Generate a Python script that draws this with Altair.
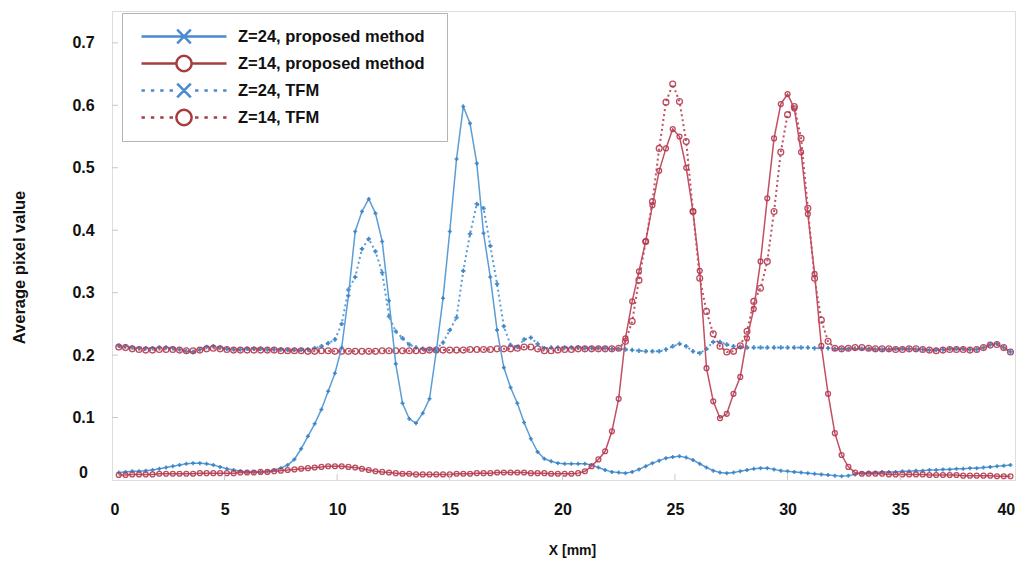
import altair as alt
import pandas as pd

# ---------------- data ----------------
X_MM = [
    0.3, 0.6, 0.9, 1.2, 1.5, 1.8, 2.1, 2.4, 2.7, 3.0,
    3.3, 3.6, 3.9, 4.2, 4.5, 4.8, 5.1, 5.4, 5.7, 6.0,
    6.3, 6.6, 6.9, 7.2, 7.5, 7.8, 8.1, 8.4, 8.7, 9.0,
    9.3, 9.6, 9.9, 10.2, 10.5, 10.8, 11.1, 11.4, 11.7, 12.0,
    12.3, 12.6, 12.9, 13.2, 13.5, 13.8, 14.1, 14.4, 14.7, 15.0,
    15.3, 15.6, 15.9, 16.2, 16.5, 16.8, 17.1, 17.4, 17.7, 18.0,
    18.3, 18.6, 18.9, 19.2, 19.5, 19.8, 20.1, 20.4, 20.7, 21.0,
    21.3, 21.6, 21.9, 22.2, 22.5, 22.8, 23.1, 23.4, 23.7, 24.0,
    24.3, 24.6, 24.9, 25.2, 25.5, 25.8, 26.1, 26.4, 26.7, 27.0,
    27.3, 27.6, 27.9, 28.2, 28.5, 28.8, 29.1, 29.4, 29.7, 30.0,
    30.3, 30.6, 30.9, 31.2, 31.5, 31.8, 32.1, 32.4, 32.7, 33.0,
    33.3, 33.6, 33.9, 34.2, 34.5, 34.8, 35.1, 35.4, 35.7, 36.0,
    36.3, 36.6, 36.9, 37.2, 37.5, 37.8, 38.1, 38.4, 38.7, 39.0,
    39.3, 39.6, 39.9,
]

B24_PROPOSED = [
    0.012, 0.013, 0.014, 0.014, 0.015, 0.016, 0.018, 0.020, 0.022, 0.024,
    0.026, 0.027, 0.027, 0.026, 0.024, 0.021, 0.018, 0.016, 0.014, 0.013,
    0.013, 0.013, 0.014, 0.016, 0.019, 0.024, 0.033, 0.050, 0.070, 0.090,
    0.113, 0.142, 0.171, 0.212, 0.295, 0.398, 0.430, 0.450, 0.427, 0.382,
    0.287, 0.186, 0.123, 0.098, 0.091, 0.107, 0.130, 0.206, 0.291, 0.398,
    0.514, 0.598, 0.571, 0.507, 0.395, 0.325, 0.240, 0.180, 0.148, 0.123,
    0.092, 0.066, 0.045, 0.034, 0.030, 0.027, 0.026, 0.026, 0.026, 0.026,
    0.024, 0.020, 0.016, 0.013, 0.012, 0.011, 0.013, 0.017, 0.022, 0.027,
    0.031, 0.035, 0.037, 0.038, 0.036, 0.032, 0.026, 0.020, 0.015, 0.012,
    0.011, 0.012, 0.014, 0.016, 0.018, 0.019, 0.019, 0.017, 0.015, 0.014,
    0.013, 0.012, 0.011, 0.010, 0.009, 0.008, 0.007, 0.006, 0.007, 0.009,
    0.011, 0.012, 0.012, 0.013, 0.013, 0.013, 0.014, 0.014, 0.015, 0.015,
    0.016, 0.016, 0.017, 0.017, 0.018, 0.018, 0.019, 0.019, 0.020, 0.021,
    0.022, 0.023, 0.024,
]

R14_PROPOSED = [
    0.008, 0.008, 0.009, 0.009, 0.009, 0.009, 0.010, 0.010, 0.010, 0.010,
    0.010, 0.010, 0.011, 0.011, 0.011, 0.011, 0.011, 0.011, 0.012, 0.012,
    0.012, 0.013, 0.013, 0.014, 0.015, 0.016, 0.017, 0.018, 0.019, 0.020,
    0.021, 0.022, 0.022, 0.022, 0.021, 0.020, 0.018, 0.016, 0.014, 0.013,
    0.012, 0.011, 0.010, 0.010, 0.009, 0.009, 0.009, 0.009, 0.009, 0.009,
    0.010, 0.010, 0.010, 0.011, 0.011, 0.011, 0.012, 0.012, 0.012, 0.012,
    0.012, 0.011, 0.011, 0.011, 0.010, 0.010, 0.010, 0.010, 0.011, 0.014,
    0.022, 0.033, 0.046, 0.078, 0.130, 0.227, 0.286, 0.334, 0.382, 0.440,
    0.495, 0.531, 0.562, 0.550, 0.500, 0.430, 0.335, 0.179, 0.126, 0.099,
    0.106, 0.138, 0.165, 0.227, 0.274, 0.350, 0.451, 0.547, 0.602, 0.618,
    0.595, 0.525, 0.426, 0.330, 0.215, 0.138, 0.075, 0.040, 0.021, 0.012,
    0.010, 0.010, 0.010, 0.010, 0.009, 0.009, 0.009, 0.009, 0.009, 0.009,
    0.008, 0.008, 0.008, 0.008, 0.008, 0.007, 0.007, 0.007, 0.007, 0.007,
    0.006, 0.006, 0.006,
]

B24_TFM = [
    0.215, 0.214, 0.212, 0.211, 0.211, 0.211, 0.212, 0.212, 0.211, 0.209,
    0.206, 0.205, 0.209, 0.213, 0.214, 0.212, 0.210, 0.209, 0.209, 0.210,
    0.210, 0.210, 0.209, 0.209, 0.209, 0.208, 0.208, 0.208, 0.209, 0.211,
    0.214, 0.219, 0.225, 0.250, 0.305, 0.325, 0.370, 0.386, 0.366, 0.332,
    0.262, 0.238, 0.227, 0.217, 0.212, 0.210, 0.209, 0.210, 0.220, 0.240,
    0.260, 0.335, 0.394, 0.442, 0.435, 0.375, 0.314, 0.246, 0.216, 0.213,
    0.225, 0.228, 0.218, 0.211, 0.212, 0.212, 0.212, 0.212, 0.212, 0.211,
    0.211, 0.211, 0.211, 0.210, 0.210, 0.209, 0.208, 0.207, 0.206, 0.206,
    0.206, 0.209, 0.214, 0.218, 0.214, 0.206, 0.203, 0.210, 0.221, 0.221,
    0.217, 0.214, 0.213, 0.212, 0.212, 0.212, 0.212, 0.212, 0.212, 0.212,
    0.212, 0.212, 0.212, 0.211, 0.211, 0.211, 0.210, 0.210, 0.210, 0.210,
    0.210, 0.210, 0.209, 0.209, 0.209, 0.210, 0.210, 0.210, 0.209, 0.209,
    0.208, 0.208, 0.209, 0.210, 0.210, 0.210, 0.209, 0.209, 0.212, 0.217,
    0.218, 0.212, 0.205,
]

R14_TFM = [
    0.213, 0.212, 0.210, 0.209, 0.208, 0.208, 0.209, 0.209, 0.209, 0.208,
    0.207, 0.207, 0.208, 0.210, 0.211, 0.210, 0.209, 0.208, 0.208, 0.208,
    0.208, 0.208, 0.208, 0.208, 0.207, 0.207, 0.207, 0.207, 0.206, 0.206,
    0.207, 0.207, 0.206, 0.206, 0.206, 0.206, 0.206, 0.206, 0.206, 0.207,
    0.207, 0.207, 0.207, 0.207, 0.207, 0.207, 0.208, 0.208, 0.208, 0.208,
    0.208, 0.208, 0.209, 0.209, 0.209, 0.209, 0.210, 0.210, 0.210, 0.211,
    0.213, 0.213, 0.210, 0.207, 0.207, 0.208, 0.209, 0.209, 0.210, 0.210,
    0.210, 0.210, 0.210, 0.210, 0.211, 0.222, 0.254, 0.320, 0.382, 0.446,
    0.531, 0.605, 0.634, 0.606, 0.542, 0.430, 0.323, 0.270, 0.234, 0.214,
    0.205, 0.206, 0.215, 0.238, 0.286, 0.307, 0.350, 0.430, 0.525, 0.585,
    0.598, 0.547, 0.435, 0.323, 0.256, 0.222, 0.211, 0.210, 0.211, 0.212,
    0.212, 0.211, 0.210, 0.210, 0.210, 0.209, 0.209, 0.210, 0.210, 0.209,
    0.208, 0.207, 0.208, 0.209, 0.209, 0.209, 0.208, 0.209, 0.212, 0.216,
    0.217, 0.212, 0.205,
]

SERIES = ["Z=24, proposed method", "Z=14, proposed method", "Z=24, TFM", "Z=14, TFM"]
X_TICK_LABELS = [0, 5, 10, 15, 20, 25, 30, 35, 40]
Y_TICK_LABELS = [0, 0.1, 0.2, 0.3, 0.4, 0.5, 0.6, 0.7]

for arr in (B24_PROPOSED, R14_PROPOSED, B24_TFM, R14_TFM):
    assert len(arr) == len(X_MM), len(arr)

# ---------------- styling ----------------
FONT = "Liberation Sans"
BLUE_LINE = "#5b9dd6"
BLUE_MARK = "#3581c4"
RED_LINE = "#c24f62"
RED_MARK = "#b33a50"
LEG_BLUE = "#4a8ad0"
LEG_RED = "#a83c40"

W, H = 903, 469


def dotted(side_marker):
    segs = [(-1.0, -0.92), (-0.78, -0.70), (-0.56, -0.48), (-0.34, -0.26),
            (0.26, 0.34), (0.48, 0.56), (0.70, 0.78), (0.92, 1.0)]
    return "".join(f"M{a},0L{b},0" for a, b in segs) + side_marker


X_MARK = "M-0.16,-0.16L0.16,0.16M-0.16,0.16L0.16,-0.16"
O_MARK = "M-0.18,0A0.18,0.18,0,1,1,0.18,0A0.18,0.18,0,1,1,-0.18,0"
PATHS = [
    "M-1,0L1,0" + X_MARK,
    "M-1,0L-0.18,0M0.18,0L1,0" + O_MARK,
    dotted(X_MARK),
    dotted(O_MARK),
]

rows = []
for name, vals in zip(SERIES, [B24_PROPOSED, R14_PROPOSED, B24_TFM, R14_TFM]):
    for x, v in zip(X_MM, vals):
        rows.append({"x": x, "v": v, "series": name})
df = pd.DataFrame(rows)

xs = alt.Scale(domain=[0, 40.1], nice=False, zero=False)
ys = alt.Scale(domain=[0, 0.751], nice=False, zero=False)

x_axis = alt.Axis(
    values=X_TICK_LABELS, format="d", title="X [mm]", grid=False, ticks=False, domain=False,
    labelFont=FONT, labelFontSize=16, labelFontWeight="bold", labelColor="#111111",
    labelPadding=21, labelFlush=5, labelFlushOffset=2,
    titleFont=FONT, titleFontSize=14, titleFontWeight="bold", titleColor="#111111",
    titleX=460, titleY=70, titleBaseline="middle",
)
y_axis = alt.Axis(
    values=Y_TICK_LABELS, title="Average pixel value", grid=False, ticks=False, domain=False,
    labelExpr="datum.value == 0 ? '0' : format(datum.value, '.1f')",
    labelFont=FONT, labelFontSize=16, labelFontWeight="bold", labelColor="#111111",
    labelAlign="center", labelPadding=29,
    labelFlush=True, labelFlushOffset=0,
    titleFont=FONT, titleFontSize=16.5, titleFontWeight="bold", titleColor="#111111",
    titleX=-93, titleY=256, titleAngle=270, titleBaseline="middle", titleAlign="center",
)

X_ENC = alt.X("x:Q", scale=xs, axis=x_axis)
Y_ENC = alt.Y("v:Q", scale=ys, axis=y_axis)

base = alt.Chart(df)


def sel(name):
    return base.transform_filter(alt.datum.series == name)


layers = []
spec = [
    (SERIES[2], BLUE_LINE, BLUE_MARK, True),
    (SERIES[3], RED_LINE, RED_MARK, True),
    (SERIES[0], BLUE_LINE, BLUE_MARK, False),
    (SERIES[1], RED_LINE, RED_MARK, False),
]
for name, lc, mc, is_tfm in spec:
    if is_tfm:
        line = sel(name).mark_line(color=lc, strokeWidth=2, strokeDash=[2, 3])
    else:
        line = sel(name).mark_line(color=lc, strokeWidth=1.5)
    layers.append(line.encode(x=X_ENC, y=Y_ENC))
    if mc == BLUE_MARK:
        pts = sel(name).mark_point(shape="cross", filled=True, color=mc, size=20 if is_tfm else 16, opacity=0.9)
    else:
        pts = sel(name).mark_point(shape="circle", filled=False, color=mc, size=34 if is_tfm else 24,
                                   strokeWidth=1.3, opacity=0.9)
    layers.append(pts.encode(x=X_ENC, y=Y_ENC))

# faint inward tick marks
ytick_df = pd.DataFrame({"v": Y_TICK_LABELS[1:]})
xtick_df = pd.DataFrame({"x": X_TICK_LABELS[1:-1]})
layers.append(
    alt.Chart(ytick_df).mark_rule(color="#c8c8c8", strokeWidth=1).encode(
        y=Y_ENC, x=alt.value(0), x2=alt.value(6))
)
layers.append(
    alt.Chart(xtick_df).mark_rule(color="#c8c8c8", strokeWidth=1).encode(
        x=X_ENC, y=alt.value(H), y2=alt.value(H - 6))
)

# legend-only layer (points placed outside the domain and clipped)
leg_df = pd.DataFrame({"x": [-50.0] * 4, "v": [0.2] * 4, "series": SERIES})
leg_props = dict(
    title=None, orient="none", legendX=10, legendY=2, padding=10,
    fillColor="white", strokeColor="#b4b4b4", symbolSize=7225, symbolStrokeWidth=2.5,
    symbolOpacity=1, clipHeight=27, rowPadding=0, symbolOffset=8, labelOffset=10,
    labelFont=FONT, labelFontSize=16.5, labelFontWeight="bold", labelColor="#111111", labelLimit=400,
    labelExpr="datum.label + '\u2800'",
)
layers.append(
    alt.Chart(leg_df).mark_point(filled=False, clip=True, strokeWidth=2.5).encode(
        x=X_ENC,
        y=Y_ENC,
        color=alt.Color("series:N", scale=alt.Scale(domain=SERIES, range=[LEG_BLUE, LEG_RED, LEG_BLUE, LEG_RED]),
                        legend=alt.Legend(**leg_props)),
        shape=alt.Shape("series:N", scale=alt.Scale(domain=SERIES, range=PATHS),
                        legend=alt.Legend(**leg_props)),
    )
)

chart = alt.layer(*layers).properties(
    width=W, height=H,
    autosize=alt.AutoSizeParams(type="none"),
    padding={"left": 104, "top": 3, "right": 3, "bottom": 80},
).configure_view(stroke="#a6a6a6", strokeWidth=2.5).configure(font=FONT, background="white")

chart.save("out.html", embed_options={"renderer": "svg", "actions": False})
